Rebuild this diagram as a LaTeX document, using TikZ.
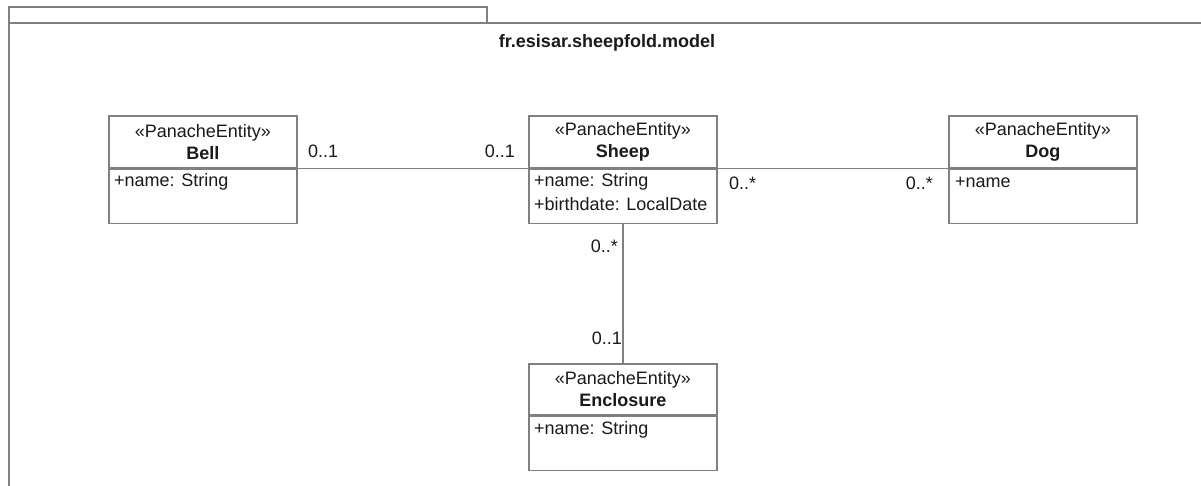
\documentclass[tikz,border=0pt]{standalone}
\usepackage{fontspec}
\setmainfont{Liberation Sans}
\definecolor{lc}{HTML}{808080}
\definecolor{tc}{HTML}{1A1A1A}
\begin{document}
\begin{tikzpicture}[x=1pt,y=-1pt,
  ln/.style={draw=lc,line width=1.6pt},
  hdr/.style={ln, minimum width=188pt, minimum height=52pt, inner sep=0pt, align=center, font=\fontsize{18}{22}\selectfont, text=tc},
  bod/.style={ln, minimum width=188pt, minimum height=54pt, inner sep=0pt},
  attr/.style={anchor=west, inner sep=0pt, font=\fontsize{18}{22}\selectfont, text=tc},
  mult/.style={inner sep=0pt, font=\fontsize{18}{22}\selectfont, text=tc},
  pkgtitle/.style={inner sep=0pt, font=\bfseries\fontsize{18}{22}\selectfont, text=tc}]
\useasboundingbox (0,0) rectangle (1201,486);
\clip (0,0) rectangle (1201,486);
\fill[white] (0,0) rectangle (1201,486);
% package frame
\draw[ln] (9,7) rectangle (487,23);
\draw[ln] (9,23) rectangle (1205,530);
\node[pkgtitle] (pkg) at (607,43) {fr.esisar.sheepfold.model};
% classes
\node[hdr, anchor=north west] (bellH) at (108,115) {«PanacheEntity»\\\textbf{Bell}};
\node[bod, anchor=north] (bellB) at (bellH.south) {};
\node[hdr, anchor=north west] (sheepH) at (528,115) {«PanacheEntity»\\\textbf{Sheep}};
\node[bod, anchor=north] (sheepB) at (sheepH.south) {};
\node[hdr, anchor=north west] (dogH) at (948,115) {«PanacheEntity»\\\textbf{Dog}};
\node[bod, anchor=north] (dogB) at (dogH.south) {};
\node[hdr, anchor=north west, minimum height=51pt] (enclH) at (528,363) {«PanacheEntity»\\\textbf{Enclosure}};
\node[bod, anchor=north] (enclB) at (enclH.south) {};
% attributes
\node[attr] (bellA1) at (114,182) {+name: String};
\node[attr] (sheepA1) at (534,182) {+name: String};
\node[attr] (sheepA2) at (534,204) {+birthdate: LocalDate};
\node[attr] (dogA1) at (955,182) {+name};
\node[attr] (enclA1) at (534,430) {+name: String};
% associations
\draw[ln] (bellH.south east) -- (sheepH.south west);
\draw[ln] (sheepH.south east) -- (dogH.south west);
\draw[ln] (sheepB.south) -- (enclH.north);
% multiplicities
\node[mult, anchor=west] (m1) at (308,151) {0..1};
\node[mult, anchor=east] (m2) at (515,151) {0..1};
\node[mult, anchor=west] (m3) at (729,183) {0..*};
\node[mult, anchor=east] (m4) at (933,183) {0..*};
\node[mult, anchor=east] (m5) at (618,246) {0..*};
\node[mult, anchor=east] (m6) at (622,338) {0..1};
\end{tikzpicture}
\end{document}
